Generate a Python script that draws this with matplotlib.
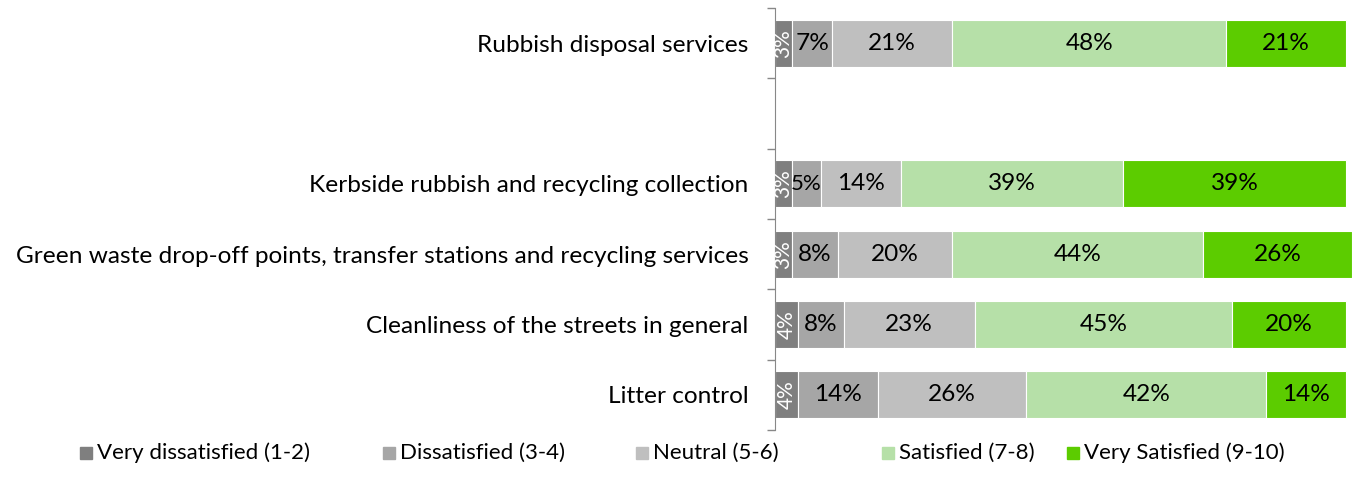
import matplotlib
matplotlib.use("Agg")
import matplotlib.pyplot as plt
from matplotlib.patches import Rectangle

plt.rcParams['font.family'] = ['Lato', 'DejaVu Sans']

categories = ["Rubbish disposal services", "", "Kerbside rubbish and recycling collection",
              "Green waste drop-off points, transfer stations and recycling services",
              "Cleanliness of the streets in general", "Litter control"]
series_names = ["Very dissatisfied (1-2)", "Dissatisfied (3-4)", "Neutral (5-6)",
                "Satisfied (7-8)", "Very Satisfied (9-10)"]
very_dissatisfied = [3, None, 3, 3, 4, 4]
dissatisfied = [7, None, 5, 8, 8, 14]
neutral = [21, None, 14, 20, 23, 26]
satisfied = [48, None, 39, 44, 45, 42]
very_satisfied = [21, None, 39, 26, 20, 14]
colors = ["#7f7f7f", "#a6a6a6", "#bfbfbf", "#b6e0a8", "#5ccc00"]

series = [very_dissatisfied, dissatisfied, neutral, satisfied, very_satisfied]

W, H = 1353, 496
FS = 17.6
fig = plt.figure(figsize=(W / 100, H / 100), dpi=100)
ax = fig.add_axes([775 / W, 1 - 430 / H, 577 / W, 422 / H])

n = len(categories)
ypos = [n - 1 - i for i in range(n)]
left = [0.0] * n
for si, (vals, col) in enumerate(zip(series, colors)):
    for i, v in enumerate(vals):
        if v is None:
            continue
        ax.barh(ypos[i], v, left=left[i], height=0.67, color=col, edgecolor='white', linewidth=0.8)
        cx = left[i] + v / 2
        if si == 0:
            ax.text(cx, ypos[i], f"{v}%", rotation=90, ha='center', va='center',
                    color='white', fontsize=15)
        else:
            fs = FS if v >= 6 else 16
            ax.text(cx, ypos[i], f"{v}%", ha='center', va='center', color='black', fontsize=fs)
        left[i] += v

ax.set_xlim(0, 101)
ax.set_ylim(-0.5, n - 0.5)
ax.set_yticks(ypos)
ax.set_yticklabels(categories, fontsize=FS)
ax.tick_params(axis='y', which='major', length=0, pad=19)
ax.set_yticks([y + 0.5 for y in range(-1, n)], minor=True)
ax.tick_params(axis='y', which='minor', length=6, color='#888888', width=1)
ax.set_xticks([])
for s in ['top', 'right', 'bottom']:
    ax.spines[s].set_visible(False)
ax.spines['left'].set_color('#888888')

# legend (manual placement)
leg_x = [80, 383, 636, 882, 1067]
leg_y = 453
for x, name, col in zip(leg_x, series_names, colors):
    fig.patches.append(Rectangle((x / W, 1 - (leg_y + 6) / H), 12 / W, 12 / H,
                                 transform=fig.transFigure, color=col))
    fig.text((x + 17) / W, 1 - leg_y / H, name, ha='left', va='center', fontsize=16)

fig.savefig("out.png", dpi=100)
